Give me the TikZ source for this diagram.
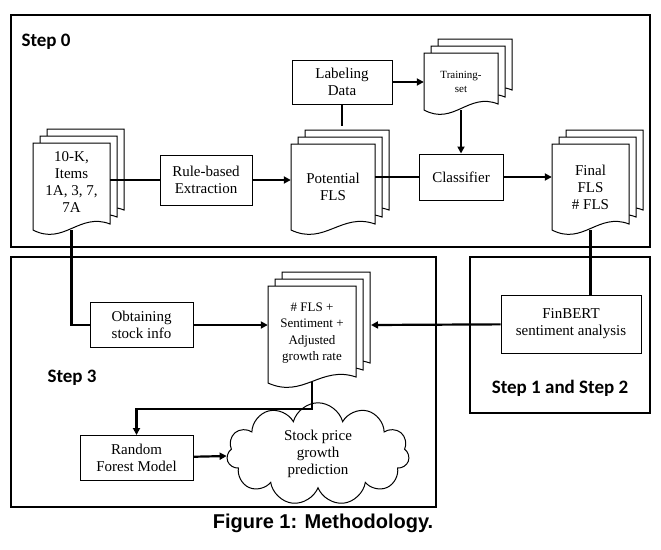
\documentclass[tikz,border=0pt]{standalone}
\usepackage{fontspec}
\setmainfont{Liberation Serif}
\newfontfamily\stepfont{Carlito}
\newfontfamily\capfont{Liberation Sans}
\usetikzlibrary{arrows.meta}
\usetikzlibrary{shapes.symbols}
\tikzset{basic/.style={draw,line width=1pt,fill=white,align=center,
                       font=\fontsize{15}{17}\selectfont}}
\tikzset{proc/.style={basic,rectangle,inner sep=0pt}}
\tikzset{docarea/.style={rectangle,inner sep=0pt,align=center,
                         font=\fontsize{15}{17}\selectfont}}
\tikzset{flow/.style={line width=2.2pt}}
\tikzset{arr/.style={flow,-{Triangle[length=7pt,width=7pt]}}}
\tikzset{frame/.style={line width=2.2pt}}
\tikzset{steplabel/.style={font=\stepfont\bfseries\fontsize{19}{21}\selectfont}}
% stacked page with a wavy foot: x1, y1, x2, y2 of the front page
\newcommand{\stackdoc}[4]{%
  \foreach \o in {2,1,0}{
    \draw[line width=1pt,fill=white,xshift=\o*7pt,yshift=\o*7pt]
      (#1,#2) -- (#3,#2) -- (#3,{#4-6})
      .. controls ({#3-0.4*(#3-#1)},{#4-18}) and ({#1+0.4*(#3-#1)},{#4+16}) ..
      (#1,#4) -- cycle;
  }}

\begin{document}
\begin{tikzpicture}[x=1pt,y=-1pt]
    \useasboundingbox (0,0) rectangle (661,549);

    % frames
    \draw[frame] (11,15) rectangle (650,247);
    \draw[frame] (11,257) rectangle (436,507);
    \draw[frame] (470,257) rectangle (650,413);
    \node[steplabel,anchor=west] (s0) at (18,42) {Step 0};
    \node[steplabel,anchor=west] (s3) at (44,378) {Step 3};
    \node[steplabel] (s12) at (560,388) {Step 1 and Step 2};

    % documents
    \stackdoc{33}{143}{110}{230}
    \node[docarea,minimum width=77pt,minimum height=87pt] (tenk) at (71.5,186.5) {};
    \node[docarea] at (71.5,182) {10-K,\\Items\\1A, 3, 7,\\7A};
    \stackdoc{291}{144}{375}{230}
    \node[docarea,minimum width=84pt,minimum height=86pt] (pot) at (333,187) {Potential\\FLS};
    \stackdoc{424}{53}{498}{110}
    \node[docarea,minimum width=74pt,minimum height=57pt,
          font=\fontsize{11}{14}\selectfont] (train) at (461,81.5) {Training-\\set};
    \stackdoc{552}{144}{629}{230}
    \node[docarea,minimum width=77pt,minimum height=86pt] (final) at (590.5,187) {Final\\FLS\\\# FLS};
    \stackdoc{268}{286}{356}{383}
    \node[docarea,minimum width=88pt,minimum height=97pt,
          font=\fontsize{13}{16.5}\selectfont] (res) at (312,333) {\# FLS +\\Sentiment +\\Adjusted\\growth rate};

    % process boxes
    \node[proc,minimum width=92pt,minimum height=50pt] (rule) at (206,180) {Rule-based\\Extraction};
    \node[proc,minimum width=100pt,minimum height=44pt] (lab) at (342,82) {Labeling\\Data};
    \node[proc,minimum width=84pt,minimum height=46pt] (clf) at (461,177) {Classifier};
    \node[proc,minimum width=103pt,minimum height=45pt] (obt) at (141.5,325) {Obtaining\\stock info};
    \node[proc,minimum width=140pt,minimum height=58pt] (fin) at (571,324) {FinBERT\\sentiment analysis};
    \node[proc,minimum width=113pt,minimum height=45pt] (rf) at (136.5,458) {Random\\Forest Model};
    \node[basic,cloud,cloud puffs=11,aspect=2.6,minimum width=168pt,minimum height=64pt,
          inner sep=0pt] (pred) at (318,454) {Stock price\\growth\\prediction};

    \coordinate (pottop) at (342,126);
    \coordinate (resr) at (371,325);

    % connectors
    \draw[flow] (tenk.east |- rule) -- (rule);
    \draw[arr] (rule) -- (pot.west |- rule);
    \draw[flow] (lab) -- (pottop);
    \draw[arr] (lab) -- (train.west |- lab);
    \draw[arr] (train) -- (clf);
    \draw[flow] (pot.east |- clf) -- (clf);
    \draw[arr] (clf) -- (final.west |- clf);
    \draw[flow] (final.south) -- (final.south |- fin.north);
    \draw[flow] (tenk.south) |- (obt);
    \draw[arr] (obt) -- (res.west |- obt);
    \draw[arr] (fin) -- (resr);
    \draw[arr] (res.south) -- ++(0,27) -| (rf.north);
    \draw[arr] (rf) -- (pred);

    % caption
    \node[font=\capfont\bfseries\fontsize{20}{22}\selectfont] (cap) at (323,523) {Figure 1: Methodology.};
\end{tikzpicture}
\end{document}
